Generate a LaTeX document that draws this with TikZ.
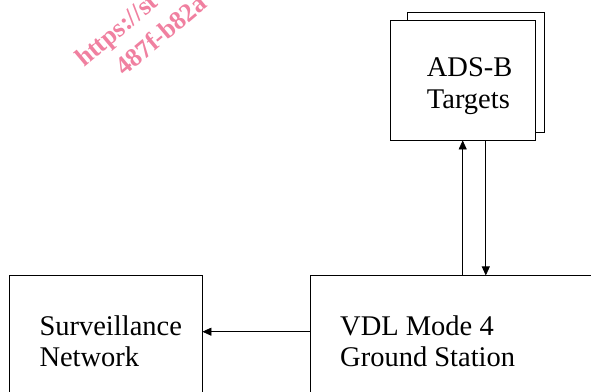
\documentclass[tikz,border=0pt]{standalone}
\usepackage{fontspec}
\setmainfont{Liberation Serif}
\usetikzlibrary{arrows.meta,positioning}
\definecolor{stamppink}{RGB}{240,128,160}

\tikzset{
  block/.style={draw, line width=0.8pt, fill=white},
  caption/.style={align=left, font=\fontsize{28.5}{31.7}\selectfont, inner sep=0pt},
  link/.style={line width=0.8pt, -{Triangle[length=9pt,width=8pt]}},
  stamp/.style={text=stamppink, font=\bfseries\fontsize{26}{31}\selectfont, rotate=40, inner sep=0pt}
}

\begin{document}
\begin{tikzpicture}[x=1pt,y=-1pt]
  \useasboundingbox (0,0) rectangle (591,391);
  \clip (0,0) rectangle (591,391);
  % watermark
  \node[stamp, anchor=base west] (wm1) at (84,68) {https://st};
  \node[stamp, anchor=base west] (wm2) at (124,77) {487f-b82a};
  % targets, two boxes stacked
  \node[block, minimum width=137pt, minimum height=120pt] (tgtback) at (475.5,72) {};
  \node[block, minimum width=145pt, minimum height=120pt] (tgt) at (462.5,80) {};
  \node[caption, anchor=base west] (tgttxt) at (426.7,108) {ADS-B\\Targets};
  % lower row
  \node[block, minimum width=193pt, minimum height=144pt] (surv) at (105.5,347.85) {};
  \node[caption, anchor=base west] (survtxt) at (39.3,366.7) {Surveillance\\Network};
  \node[block, minimum width=310pt, minimum height=144pt] (gs) at (465,347.85) {};
  \node[caption, anchor=base west] (gstxt) at (340,366.7) {VDL Mode 4\\Ground Station};
  % links
  \draw[link] ([xshift=-2.3pt]gs.north) -- ([xshift=-2.3pt]gs.north |- tgt.south);
  \draw[link] ([xshift=23.3pt]tgt.south) -- ([xshift=23.3pt]tgt.south |- gs.north);
  \draw[link] ([yshift=16.15pt]gs.west) -- ([yshift=16.15pt]surv.east);
\end{tikzpicture}
\end{document}
